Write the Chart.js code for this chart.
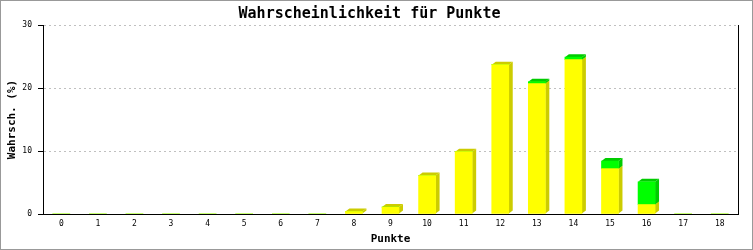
<!DOCTYPE html>
<html>
<head>
<meta charset="utf-8">
<script src="https://cdn.jsdelivr.net/npm/chart.js@4/dist/chart.umd.min.js"></script>
<style>
  html, body { margin: 0; padding: 0; background: #fff; }
  #wrap { width: 751px; height: 248px; border: 1px solid #999; position: relative; }
  canvas { display: block; }
</style>
</head>
<body>
<div id="wrap"><canvas id="chart" width="751" height="248"></canvas></div>
<script>
// Wahrscheinlichkeit für Punkte

// ========== Daten ==========
const punkte = ['0', '1', '2', '3', '4', '5', '6', '7', '8', '9', '10', '11', '12', '13', '14', '15', '16', '17', '18'];
const gelb   = [0, 0, 0, 0, 0, 0, 0, 0, 0.4, 1.1, 6.1, 9.9, 23.7, 20.7, 24.5, 7.2, 1.5, 0, 0];
const gruen  = [0, 0, 0, 0, 0, 0, 0, 0, 0, 0, 0, 0, 0, 0.3, 0.4, 1.2, 3.6, 0, 0];
const yTicks = [0, 10, 20, 30];

const MONO = '"DejaVu Sans Mono", "Liberation Mono", monospace';

// ========== 3D-Seiten der Balken ==========
const depthPlugin = {
  id: 'depth3d',
  beforeDatasetsDraw(chart) {
    const ctx = chart.ctx;
    const dx = 4, dy = 3;
    ctx.save();
    chart.data.datasets.forEach((ds, i) => {
      const meta = chart.getDatasetMeta(i);
      meta.data.forEach(el => {
        const left = el.x - el.width / 2;
        const right = el.x + el.width / 2;
        const top = Math.min(el.y, el.base);
        const bottom = Math.max(el.y, el.base);
        if (bottom - top < 0.5) return;
        ctx.fillStyle = ds.sideColor;
        // Seite
        ctx.beginPath();
        ctx.moveTo(right, top);
        ctx.lineTo(right + dx, top - dy);
        ctx.lineTo(right + dx, bottom - dy);
        ctx.lineTo(right, bottom);
        ctx.closePath();
        ctx.fill();
        // Deckel
        ctx.beginPath();
        ctx.moveTo(left, top);
        ctx.lineTo(left + dx, top - dy);
        ctx.lineTo(right + dx, top - dy);
        ctx.lineTo(right, top);
        ctx.closePath();
        ctx.fill();
      });
    });
    ctx.restore();
  }
};

// ========== Diagramm ==========
new Chart(document.getElementById('chart'), {
  type: 'bar',
  data: {
    labels: punkte,
    datasets: [
      { data: gelb, backgroundColor: '#ffff00', sideColor: '#cccc00', borderWidth: 0, barThickness: 17 },
      { data: gruen, backgroundColor: '#00ff00', sideColor: '#00cc00', borderWidth: 0, barThickness: 17 },
    ],
  },
  plugins: [depthPlugin],
  options: {
    responsive: false,
    animation: false,
    layout: { padding: { left: 0, right: 14, top: 0, bottom: 0 } },
    plugins: {
      legend: { display: false },
      tooltip: { enabled: false },
      title: {
        display: true,
        text: 'Wahrscheinlichkeit für Punkte',
        color: '#000',
        font: { family: MONO, size: 15, weight: 'bold', lineHeight: 1.2 },
        padding: { top: 4.5, bottom: 1.5 },
      },
    },
    scales: {
      x: {
        stacked: true,
        offset: true,
        grid: { display: false, drawTicks: false },
        border: { display: true, color: '#000', width: 1 },
        ticks: { color: '#000', font: { family: MONO, size: 8 }, padding: 5, maxRotation: 0, autoSkip: false },
        title: {
          display: true, text: 'Punkte', color: '#000',
          font: { family: MONO, size: 11, weight: 'bold', lineHeight: 1.2 },
          padding: { top: 0, bottom: 2.9 },
        },
        afterFit(scale) { scale.height = 35; },
      },
      y: {
        stacked: true,
        min: 0,
        max: 30,
        afterBuildTicks(scale) { scale.ticks = yTicks.map(v => ({ value: v })); },
        grid: { color: '#c0c0c0', tickColor: '#000', tickLength: 5, tickBorderDash: [] },
        border: { display: true, color: '#000', width: 1, dash: [2, 3] },
        ticks: { color: '#000', font: { family: MONO, size: 8 }, padding: 6 },
        title: {
          display: true, text: 'Wahrsch. (%)', color: '#000',
          font: { family: MONO, size: 11, weight: 'bold', lineHeight: 1.2 },
          padding: { top: 4.4, bottom: 0 },
        },
        afterFit(scale) { scale.width = 42; },
      },
      y2: {
        position: 'right',
        min: 0,
        max: 30,
        grid: { display: false, drawOnChartArea: false, drawTicks: false },
        border: { display: true, color: '#000', width: 1 },
        ticks: { display: false },
        afterFit(scale) { scale.width = 0; },
      },
    },
  },
});
</script>
</body>
</html>
